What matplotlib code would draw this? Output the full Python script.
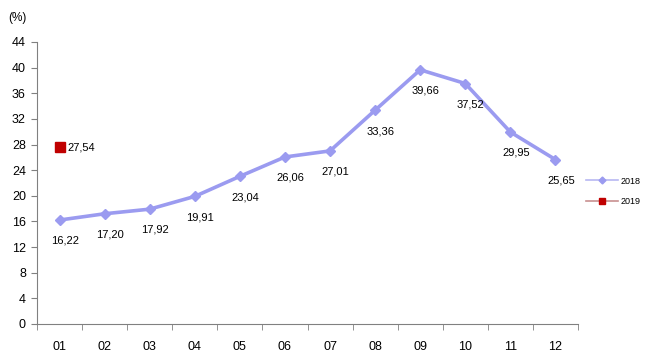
import matplotlib
matplotlib.use("Agg")
import matplotlib.pyplot as plt
from matplotlib.lines import Line2D
import numpy as np

months = ["01", "02", "03", "04", "05", "06", "07", "08", "09", "10", "11", "12"]
rate_2018 = [16.22, 17.20, 17.92, 19.91, 23.04, 26.06, 27.01, 33.36, 39.66, 37.52, 29.95, 25.65]
rate_2019 = [27.54]
yticks = list(range(0, 45, 4))

plt.rcParams["font.family"] = ["Liberation Sans", "DejaVu Sans"]

fig = plt.figure(figsize=(6.5, 3.6), dpi=100)
ax = fig.add_axes([37 / 650, 0.1, (578 - 37) / 650, (324 - 42) / 360])

x = np.arange(len(months))
ax.plot(x, rate_2018, color="#9b9bf0", lw=2.6, marker="D", ms=5.5)
ax.plot(x[:len(rate_2019)], rate_2019, color="#c00000", marker="s", ms=7, linestyle="none")

def fmt(v):
    return f"{v:.2f}".replace(".", ",")

for xi, v in zip(x, rate_2018):
    ax.annotate(fmt(v), (xi, v), xytext=(4, -15), textcoords="offset points",
                ha="center", va="center", fontsize=8)
for xi, v in zip(x, rate_2019):
    ax.annotate(fmt(v), (xi, v), xytext=(6, 0), textcoords="offset points",
                ha="left", va="center", fontsize=8)

ax.set_xlim(-0.5, len(months) - 0.5)
ax.set_ylim(0, 44)
ax.set_yticks(yticks)
ax.set_xticks(x)
ax.set_xticklabels(months)
ax.set_xticks(np.arange(-0.5, len(months)), minor=True)
ax.tick_params(axis="x", which="major", length=0, pad=12, labelsize=9)
ax.tick_params(axis="x", which="minor", length=4, color="#808080")
ax.tick_params(axis="y", length=4, color="#808080", labelsize=9, pad=4)

for side in ("top", "right"):
    ax.spines[side].set_visible(False)
for side in ("left", "bottom"):
    ax.spines[side].set_color("#808080")
    ax.spines[side].set_linewidth(0.8)

fig.text(8 / 650, 1 - 18 / 360, "(%)", fontsize=8.5, ha="left", va="center")

handles = [
    Line2D([], [], color="#b8b8f2", lw=1.2, marker="D", ms=3.5, mfc="#9b9bf0", mec="#9b9bf0"),
    Line2D([], [], color="#c89090", lw=1.2, marker="s", ms=4.5, mfc="#c00000", mec="#c00000"),
]
ax.legend(handles, ["2018", "2019"], loc="center left", bbox_to_anchor=(1.0, 0.47),
          frameon=False, fontsize=6.5, handlelength=3.5, labelspacing=1.3,
          handletextpad=0.3)

fig.savefig("out.png", dpi=100)
